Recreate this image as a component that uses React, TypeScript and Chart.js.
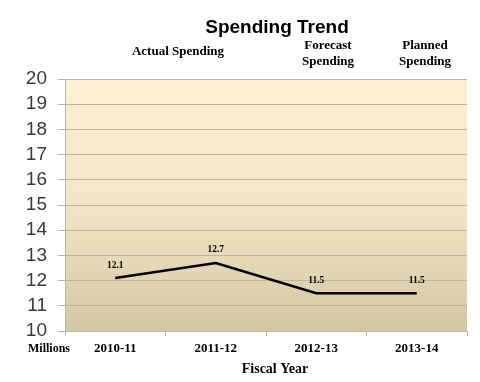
import React, { useEffect, useRef } from "react";
import { Chart, registerables } from "chart.js";

Chart.register(...registerables);

const categories = ["2010-11", "2011-12", "2012-13", "2013-14"];
const spending = [12.1, 12.7, 11.5, 11.5];
const yMin = 10;
const yMax = 20;
const titleText = "Spending Trend";
const xTitleText = "Fiscal Year";
const yUnitText = "Millions";
const phaseLabels: { lines: string[]; x: number; y: number }[] = [
  { lines: ["Actual Spending"], x: 178, y: 52 },
  { lines: ["Forecast", "Spending"], x: 328, y: 46 },
  { lines: ["Planned", "Spending"], x: 425, y: 46 },
];

const SERIF = "'Liberation Serif', 'Times New Roman', serif";
const SANS = "'Liberation Sans', Arial, sans-serif";

const decorPlugin = {
  id: "decor",
  beforeDraw(chart: any) {
    const { ctx, chartArea } = chart;
    const { left, right, top, bottom } = chartArea;
    const g = ctx.createLinearGradient(0, top, 0, bottom);
    g.addColorStop(0, "#fdf0d2");
    g.addColorStop(0.5, "#f3e6c6");
    g.addColorStop(1, "#d3c6a2");
    ctx.save();
    ctx.fillStyle = g;
    ctx.fillRect(left, top, right - left, bottom - top);
    ctx.restore();
  },
  afterDraw(chart: any) {
    const { ctx } = chart;
    ctx.save();
    ctx.fillStyle = "#000";
    ctx.textAlign = "center";
    ctx.textBaseline = "middle";
    ctx.font = `bold 19px ${SANS}`;
    ctx.fillText(titleText, 277, 28);
    ctx.font = `bold 13px ${SERIF}`;
    phaseLabels.forEach((p) => {
      p.lines.forEach((l, i) => ctx.fillText(l, p.x, p.y + i * 16));
    });
    ctx.font = `bold 12px ${SERIF}`;
    ctx.fillText(yUnitText, 49, 349);
    ctx.font = `bold 14px ${SERIF}`;
    ctx.fillText(xTitleText, 275, 369);
    const meta = chart.getDatasetMeta(0);
    ctx.font = `bold 9.5px ${SERIF}`;
    meta.data.forEach((pt: any, i: number) => {
      ctx.fillText(String(spending[i]), pt.x, pt.y - 13);
    });
    ctx.restore();
  },
};

export default function App() {
  const ref = useRef<HTMLCanvasElement>(null);
  useEffect(() => {
    document.body.style.margin = "0";
    const chart = new Chart(ref.current!, {
      type: "line",
      data: {
        labels: categories,
        datasets: [
          {
            data: spending,
            borderColor: "#000",
            borderWidth: 2.5,
            pointRadius: 0,
            tension: 0,
          },
        ],
      },
      options: {
        animation: false,
        responsive: false,
        layout: { padding: { top: 79, right: 13, left: 0, bottom: 0 } },
        plugins: { legend: { display: false }, tooltip: { enabled: false }, title: { display: false } },
        scales: {
          x: {
            offset: true,
            grid: {
              offset: true,
              drawOnChartArea: false,
              tickLength: 5,
              color: "#c0b8a8",
            },
            border: { color: "#c0b8a8" },
            ticks: {
              color: "#000",
              font: { family: SERIF, size: 13, weight: "bold" },
              padding: 5,
              autoSkip: false,
              maxRotation: 0,
            },
            afterFit(scale: any) {
              scale.height = 51;
            },
          },
          y: {
            min: yMin,
            max: yMax,
            ticks: {
              stepSize: 1,
              autoSkip: false,
              color: "#3a3a3a",
              font: { family: SANS, size: 19 },
              padding: 11,
            },
            grid: { color: "#c2b498", tickLength: 7, lineWidth: 1 },
            border: { color: "#c2b498" },
            afterFit(scale: any) {
              scale.width = 65;
            },
          },
        },
      },
      plugins: [decorPlugin],
    });
    return () => chart.destroy();
  }, []);
  return <canvas ref={ref} width={480} height={382} style={{ display: "block" }} />;
}
